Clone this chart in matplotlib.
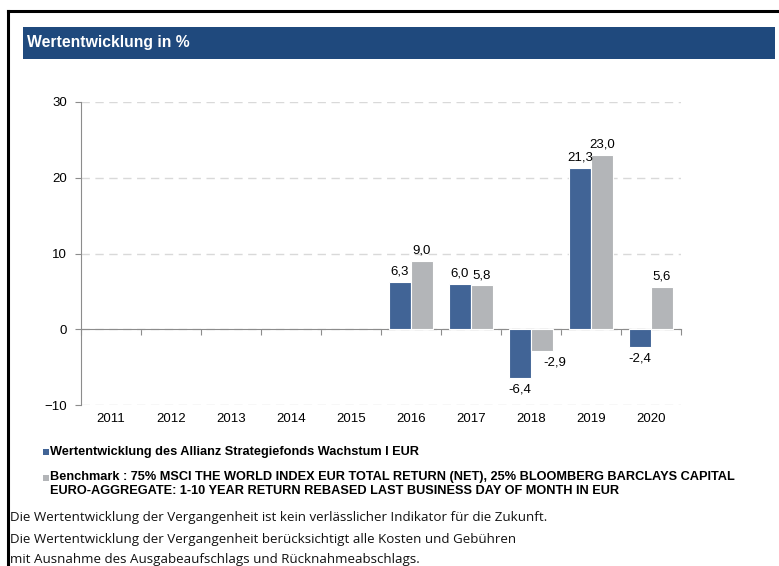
import matplotlib
matplotlib.use('Agg')
import matplotlib.pyplot as plt
from matplotlib.patches import Rectangle
from matplotlib.lines import Line2D
import numpy as np

years = ['2011', '2012', '2013', '2014', '2015', '2016', '2017', '2018', '2019', '2020']
fund = [None, None, None, None, None, 6.3, 6.0, -6.4, 21.3, -2.4]
bench = [None, None, None, None, None, 9.0, 5.8, -2.9, 23.0, 5.6]
fund_name = 'Wertentwicklung des Allianz Strategiefonds Wachstum I EUR'
bench_name = ('Benchmark : 75% MSCI THE WORLD INDEX EUR TOTAL RETURN (NET), 25% BLOOMBERG BARCLAYS CAPITAL\n'
              'EURO-AGGREGATE: 1-10 YEAR RETURN REBASED LAST BUSINESS DAY OF MONTH IN EUR')
title = 'Wertentwicklung in %'
footer = ['Die Wertentwicklung der Vergangenheit ist kein verlässlicher Indikator für die Zukunft.',
          'Die Wertentwicklung der Vergangenheit berücksichtigt alle Kosten und Gebühren',
          'mit Ausnahme des Ausgabeaufschlags und Rücknahmeabschlags.']

c_fund = '#416496'
c_bench = '#b3b5b8'
c_head = '#1f497d'

W, H = 779, 566
fig = plt.figure(figsize=(W / 100, H / 100), dpi=100)
plt.rcParams['font.family'] = ['Liberation Sans', 'DejaVu Sans']


def fx(px):
    return px / W


def fy(py):
    return 1 - py / H


# frame (top and left edge only are visible) and header
fig.add_artist(Line2D([fx(8), 1.01], [fy(11), fy(11)], color='black', lw=2.2))
fig.add_artist(Line2D([fx(8), fx(8)], [fy(11), -0.01], color='black', lw=2.2))
fig.add_artist(Rectangle((fx(23), fy(59)), fx(752), 32 / H, transform=fig.transFigure,
                         fc=c_head, ec='none'))
fig.text(fx(27), fy(43), title, color='white', fontsize=11.3, fontweight='bold', va='center')

ax = fig.add_axes([fx(81), fy(405), fx(600), 303 / H])
x = np.arange(len(years))
w = 0.367
fv = np.array([np.nan if v is None else v for v in fund])
bv = np.array([np.nan if v is None else v for v in bench])
ax.bar(x - w / 2, fv, w, color=c_fund, edgecolor='white', linewidth=0.8, zorder=3)
ax.bar(x + w / 2, bv, w, color=c_bench, edgecolor='white', linewidth=0.8, zorder=3)

for xs, vals, dx_neg in ((x - w / 2, fund, 0), (x + w / 2, bench, 9)):
    for xi, v in zip(xs, vals):
        if v is None:
            continue
        lab = f'{v:.1f}'.replace('.', ',')
        if v >= 0:
            ax.annotate(lab, (xi, v), xytext=(0, 3), textcoords='offset points',
                        ha='center', va='bottom', fontsize=9.5)
        else:
            ax.annotate(lab, (xi, v), xytext=(dx_neg, -4), textcoords='offset points',
                        ha='center', va='top', fontsize=9.5)

ax.set_xlim(-0.5, len(years) - 0.5)
ax.set_ylim(-10, 30)
ax.set_yticks([-10, 0, 10, 20, 30])
ax.yaxis.grid(True, color='#d9d9d9', linestyle=(0, (6, 4)), linewidth=1)
ax.set_axisbelow(True)
for s in ('top', 'right'):
    ax.spines[s].set_visible(False)
ax.spines['left'].set_color('#8c8c8c')
ax.spines['bottom'].set_position(('data', 0))
ax.spines['bottom'].set_color('#8c8c8c')
ax.set_xticks(np.arange(len(years) + 1) - 0.5)
ax.tick_params(axis='x', length=4, color='#8c8c8c', labelbottom=False)
ax.tick_params(axis='y', length=4, color='#8c8c8c', labelsize=9.5, pad=6)

sec = ax.secondary_xaxis(0)
sec.set_xticks(x)
sec.set_xticklabels(years)
sec.tick_params(length=0, labelsize=9.5, pad=6)
sec.spines['bottom'].set_visible(False)

# legend
fig.add_artist(Rectangle((fx(43), fy(455)), fx(6), 6 / H, transform=fig.transFigure, fc=c_fund, ec='none'))
fig.text(fx(50), fy(452), fund_name, fontsize=9.2, fontweight='bold', va='center')
fig.add_artist(Rectangle((fx(43), fy(481)), fx(6), 6 / H, transform=fig.transFigure, fc=c_bench, ec='none'))
fig.text(fx(50), fy(471), bench_name, fontsize=9.2, fontweight='bold', va='top', linespacing=1.25)

for i, line in enumerate(footer):
    fig.text(fx(10), fy(518 + i * 21), line, fontsize=9.6, va='center', color='#111111',
             family=['Open Sans', 'DejaVu Sans'])

fig.savefig('out.png', dpi=100)
